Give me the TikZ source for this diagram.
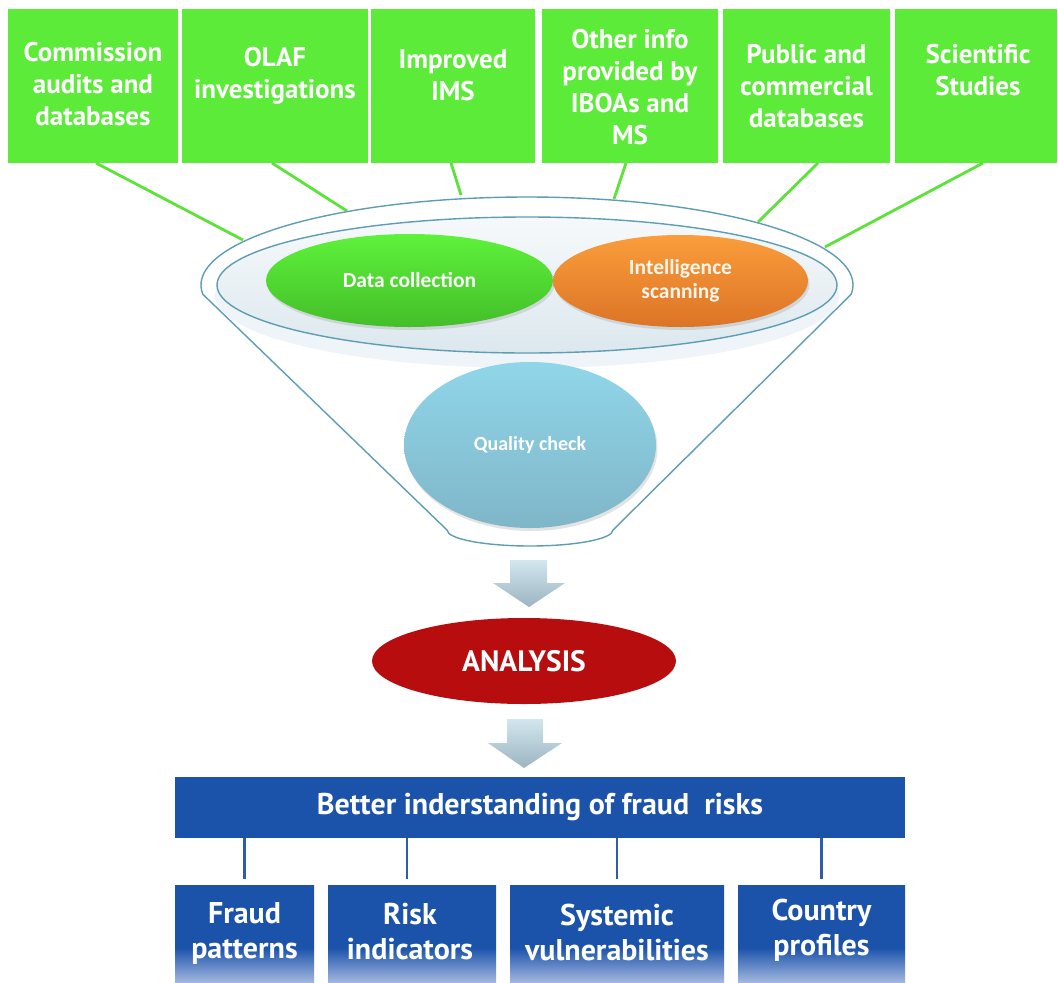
\documentclass[tikz,border=0pt]{standalone}
\usepackage{fontspec}
\setmainfont{PT Sans}
\newfontfamily\calib{Carlito}
\usetikzlibrary{shapes.geometric,shadows,calc}
\definecolor{boxgreen}{HTML}{5BEB38}
\definecolor{linegreen}{HTML}{5BE33A}
\definecolor{rimblue}{HTML}{5E9DB4}
\definecolor{innerTop}{HTML}{F6F9FB}
\definecolor{innerBot}{HTML}{DCE8EE}
\definecolor{paleband}{HTML}{EEF4F7}
\definecolor{dcTop}{HTML}{5EF23B}
\definecolor{dcBot}{HTML}{44BE29}
\definecolor{isTop}{HTML}{FA9D3B}
\definecolor{isBot}{HTML}{DC7426}
\definecolor{qcTop}{HTML}{90D6E9}
\definecolor{qcBot}{HTML}{7FB6C8}
\definecolor{anred}{HTML}{B80D0F}
\definecolor{barblue}{HTML}{1B53AB}
\definecolor{fadeblue}{HTML}{A6BAE0}
\definecolor{tieblue}{HTML}{2E5DB0}
\definecolor{arrowTop}{HTML}{D2E6EE}
\definecolor{arrowBot}{HTML}{9CB5C1}
\pgfdeclareverticalshading{boxfade}{100bp}{color(0bp)=(fadeblue); color(25bp)=(fadeblue); color(43bp)=(barblue); color(100bp)=(barblue)}
\begin{document}
\begin{tikzpicture}[x=1pt,y=-1pt,
  srcbox/.style={fill=boxgreen, inner sep=0pt, outer sep=0pt, anchor=north west, minimum height=154pt},
  srctext/.style={text=white, font=\bfseries\fontsize{27}{32}\selectfont, align=center, anchor=base, inner sep=0pt},
  feed/.style={draw=linegreen, line width=2.8pt},
  rim/.style={draw=rimblue, line width=1.4pt},
  blob/.style={ellipse, inner sep=0pt, outer sep=0pt, align=center, text=white},
  soft/.style={drop shadow={opacity=0.22, shadow xshift=1.5pt, shadow yshift=-3pt}},
  blockarrow/.style={top color=arrowTop, bottom color=arrowBot, draw=none},
  outbox/.style={shading=boxfade, inner sep=0pt, outer sep=0pt, anchor=north west, minimum height=98pt},
  outtext/.style={text=white, font=\bfseries\fontsize{30}{34.5}\selectfont, align=center, anchor=base, inner sep=0pt},
  tie/.style={draw=tieblue, line width=2.6pt, shorten >=6pt},
]
\useasboundingbox (0,0) rectangle (1058,983);
\fill[white] (0,0) rectangle (1058,983);

% source boxes
\node[srcbox, minimum width=170pt] (s1) at (8,9) {};
\node[srcbox, minimum width=186pt] (s2) at (182,9) {};
\node[srcbox, minimum width=164pt] (s3) at (371,9) {};
\node[srcbox, minimum width=176pt] (s4) at (542,9) {};
\node[srcbox, minimum width=167pt] (s5) at (723,9) {};
\node[srcbox, minimum width=162pt] (s6) at (895,9) {};
% anchor=base is the baseline of the last line
\node[srctext] (t1) at (93,125) {Commission\\audits and\\databases};
\node[srctext] (t2) at (275,98) {OLAF\\investigations};
\node[srctext] (t3) at (453,100) {Improved\\IMS};
\node[srctext] (t4) at (630,144) {Other info\\provided by\\IBOAs and\\MS};
\node[srctext] (t5) at (806.5,127) {Public and\\commercial\\databases};
\node[srctext] (t6) at (978,95) {Scientific\\Studies};

% rim attachment points
\coordinate (r1) at (243,240);
\coordinate (r2) at (347,211);
\coordinate (r3) at (461,195);
\coordinate (r4) at (614,199);
\coordinate (r5) at (758,222);
\coordinate (r6) at (825,247);
\draw[feed] ([xshift=3pt]s1.south) -- (r1);
\draw[feed] ([xshift=-3pt]s2.south) -- (r2);
\draw[feed] ([xshift=-2pt]s3.south) -- (r3);
\draw[feed] ([xshift=-4pt]s4.south) -- (r4);
\draw[feed] ([xshift=11.5pt]s5.south) -- (r5);
\draw[feed] ([xshift=7pt]s6.south) -- (r6);

% funnel
\draw[rim, fill=white] (851.2,294.2) arc[start angle=-6, end angle=186, x radius=326pt, y radius=88pt]
  -- (447,530) arc[start angle=180, end angle=360, x radius=83pt, y radius=16pt] -- cycle;
\fill[paleband] (527,296) ellipse[x radius=312pt, y radius=72pt];
\draw[rim, top color=innerTop, bottom color=innerBot] (527,285) ellipse[x radius=310pt, y radius=68pt];

\node[blob, soft, minimum width=287pt, minimum height=93pt, top color=dcTop, bottom color=dcBot,
  font=\calib\bfseries\fontsize{21.5}{24}\selectfont] (dc) at (409.5,280.5) {Data collection};
\node[blob, soft, minimum width=255pt, minimum height=92pt, top color=isTop, bottom color=isBot,
  font=\calib\bfseries\fontsize{21.5}{24}\selectfont, text=white!92!orange] (is) at (680.5,281) {Intelligence\\scanning};
\node[blob, soft, minimum width=252pt, minimum height=166pt, top color=qcTop, bottom color=qcBot,
  font=\calib\bfseries\fontsize{20}{23}\selectfont] (qc) at (530,445) {Quality check};

% block arrows
\path[blockarrow] (510,560) -- (547,560) -- (547,583) -- (565,583) -- (529,607) -- (493,583) -- (510,583) -- cycle;
\node[blob, fill=anred, minimum width=304pt, minimum height=86pt,
  font=\bfseries\fontsize{29.5}{32}\selectfont] (an) at (524,661) {ANALYSIS};
\path[blockarrow] (507,719) -- (543,719) -- (543,743) -- (562,743) -- (524,768) -- (488,743) -- (507,743) -- cycle;

% results
\node[fill=barblue, inner sep=0pt, outer sep=0pt, anchor=north west, minimum width=730pt, minimum height=61pt,
  text=white, font=\bfseries\fontsize{30}{32}\selectfont] (bar) at (175,777) {Better inderstanding of fraud\ \ risks};
\node[outbox, minimum width=139pt] (o1) at (175,885) {};
\node[outbox, minimum width=168pt] (o2) at (328,885) {};
\node[outbox, minimum width=214pt] (o3) at (510,885) {};
\node[outbox, minimum width=167pt] (o4) at (738,885) {};
\node[outtext] (u1) at (244.5,958) {Fraud\\patterns};
\node[outtext] (u2) at (410,959) {Risk\\indicators};
\node[outtext] (u3) at (617,960) {Systemic\\vulnerabilities};
\node[outtext] (u4) at (821.5,955) {Country\\profiles};
\draw[tie] (bar.south -| o1.north) -- (o1.north);
\draw[tie] ([xshift=-5pt]bar.south -| o2.north) -- ([xshift=-5pt]o2.north);
\draw[tie] (bar.south -| o3.north) -- (o3.north);
\draw[tie] (bar.south -| o4.north) -- (o4.north);
\end{tikzpicture}
\end{document}
